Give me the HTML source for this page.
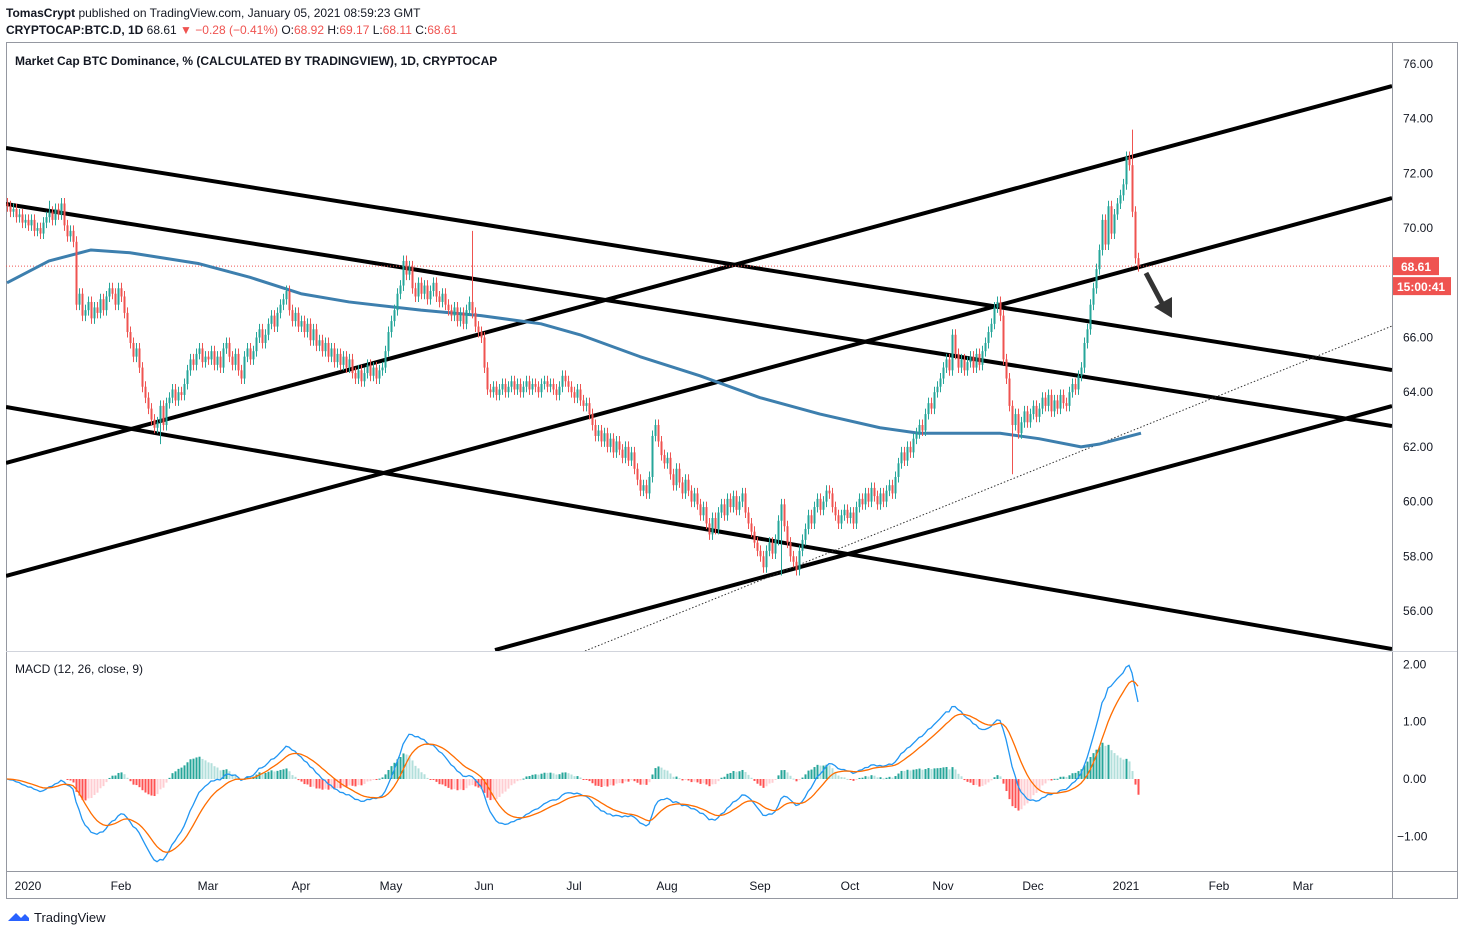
<!DOCTYPE html>
<html><head><meta charset="utf-8">
<style>
html,body{margin:0;padding:0;background:#fff;width:1464px;height:936px;overflow:hidden}
text{font-family:"Liberation Sans",sans-serif}
</style></head>
<body>
<svg id="svg" width="1464" height="936" xmlns="http://www.w3.org/2000/svg">
<defs>
<clipPath id="pc"><rect x="6" y="42" width="1386" height="609"/></clipPath>
<clipPath id="mc"><rect x="6" y="651" width="1386" height="220"/></clipPath>
</defs>
<text x="6" y="17" font-size="12" fill="#131722"><tspan font-weight="bold">TomasCrypt</tspan> published on TradingView.com, January 05, 2021 08:59:23 GMT</text>
<text x="6" y="34" font-size="12" fill="#131722"><tspan font-weight="bold">CRYPTOCAP:BTC.D, 1D</tspan> 68.61 <tspan fill="#ef5350">▼ −0.28 (−0.41%)</tspan> O:<tspan fill="#ef5350">68.92</tspan> H:<tspan fill="#ef5350">69.17</tspan> L:<tspan fill="#ef5350">68.11</tspan> C:<tspan fill="#ef5350">68.61</tspan></text>
<rect x="6.5" y="42.5" width="1451" height="856" fill="none" stroke="#9598a1"/>
<line x1="1392.5" y1="42" x2="1392.5" y2="898" stroke="#9598a1"/>
<line x1="6" y1="651.5" x2="1457" y2="651.5" stroke="#d1d4dc"/>
<line x1="6" y1="871.5" x2="1457" y2="871.5" stroke="#9598a1"/>
<text x="15" y="65" font-size="12" font-weight="bold" fill="#131722">Market Cap BTC Dominance, % (CALCULATED BY TRADINGVIEW), 1D, CRYPTOCAP</text>
<text x="15" y="673" font-size="12" fill="#131722">MACD (12, 26, close, 9)</text>
<g id="priceG" clip-path="url(#pc)"></g>
<g id="macdG" clip-path="url(#mc)"></g>
<g id="axisG"></g>
<g>
<path d="M8 921 l8 -8 l5 5 l4 -4 l4 4 v3 z" fill="#2962ff"/>
<text x="34" y="922" font-size="13" fill="#131722">TradingView</text>
</g>
</svg>
<script>
const closes=[70.8,70.6,70.7,70.4,70.5,70.2,70.3,
70.1,70.3,69.9,70.0,69.8,70.2,70.4,70.6,70.3,70.7,70.5,70.9,70.1,69.7,69.9,69.5,67.2,67.6,66.8,67.0,67.3,66.7,67.1,66.9,67.4,67.0,67.5,67.8,67.6,67.2,67.8,
67.5,66.9,66.2,65.8,65.3,65.6,64.9,64.2,63.8,63.4,63.0,62.7,62.9,63.5,62.8,63.6,63.8,64.1,63.7,64.0,63.9,64.3,64.8,65.2,65.0,65.4,65.6,65.1,65.3,
65.2,65.5,65.0,65.3,64.9,65.6,65.8,65.3,65.0,65.4,64.8,64.5,65.3,65.6,65.2,65.5,66.0,66.3,65.8,66.1,66.5,66.8,66.4,66.9,67.2,67.4,67.7,67.0,66.6,66.9,66.4,
66.6,66.2,66.5,65.9,66.3,65.7,65.9,65.5,65.8,65.3,65.6,65.1,65.4,65.0,65.3,64.9,65.2,64.7,64.5,64.8,64.4,64.7,65.0,64.6,64.9,64.5,64.8,64.9,65.5,66.2,
66.6,67.0,67.6,67.9,68.8,68.3,68.6,67.8,67.5,68.0,67.6,67.9,67.4,67.7,68.0,67.5,67.3,67.6,67.2,67.0,66.8,67.1,66.6,66.9,66.5,67.0,67.3,66.9,66.4,66.2,66.0,
64.9,64.1,64.0,64.2,63.9,64.1,64.3,64.0,64.2,64.4,64.1,64.3,64.0,64.2,64.4,64.1,64.3,64.2,64.0,64.3,64.4,64.2,64.3,64.1,63.9,64.2,64.6,64.4,64.2,64.0,
63.8,64.1,63.7,63.5,63.6,63.2,62.8,62.4,62.6,62.2,62.5,62.0,62.3,61.8,62.2,61.9,61.6,62.0,61.5,61.8,61.2,60.8,60.4,60.6,60.3,60.9,62.4,62.8,62.2,61.7,61.4,
61.6,61.0,60.6,61.2,60.7,60.3,60.8,60.4,60.0,60.3,59.9,59.5,59.8,59.2,58.8,59.4,59.0,59.6,59.9,59.5,60.1,59.8,60.2,59.7,60.0,60.3,59.6,59.2,58.9,58.5,58.2,
58.0,57.6,58.2,58.5,58.1,58.6,59.3,59.9,59.1,58.5,58.0,57.8,57.5,58.2,58.6,59.0,59.5,59.2,59.8,60.1,59.7,60.0,60.4,60.3,59.8,59.5,59.2,59.5,59.7,59.4,
59.6,59.2,59.8,60.1,59.9,60.3,60.0,60.5,60.2,59.9,60.3,60.0,60.4,60.6,60.3,60.9,61.4,61.8,61.5,62.0,61.8,62.3,62.5,62.8,62.6,63.2,63.6,63.4,64.0,64.2,64.5,
64.9,65.2,64.8,66.1,65.4,64.9,65.2,64.8,65.1,65.3,64.9,65.4,65.0,65.5,65.8,66.2,66.5,67.1,67.3,66.8,65.2,64.5,63.5,62.8,63.2,62.5,62.9,63.3,62.9,63.2,
63.5,63.1,63.4,63.8,63.5,63.9,63.3,63.7,63.4,63.9,63.6,63.5,64.0,64.3,64.1,64.6,64.9,65.8,66.3,67.2,67.8,68.5,69.2,70.3,69.4,70.8,69.8,70.5,70.9,71.2,71.6,
72.6,72.3,70.6,68.9,68.61];
const firstDay=-7;
const spikeDays=[7,148,44,251,328,368];
const spikeVals=[71.0,69.9,62.1,57.3,61.0,73.6];
const maDays=[-7,7,21,34,57,74,91,107,131,151,171,184,204,224,244,264,284,297,311,324,337,351,357,371];
const maVals=[68.0,68.8,69.2,69.1,68.7,68.2,67.6,67.3,67.0,66.8,66.5,66.1,65.3,64.6,63.8,63.2,62.7,62.5,62.5,62.5,62.3,62.0,62.1,62.5];
const priceTicks=[76,74,72,70,68,66,64,62,60,58,56];
const macdTicks=[2,1,0,-1];
const monthLabels=["2020","Feb","Mar","Apr","May","Jun","Jul","Aug","Sep","Oct","Nov","Dec","2021","Feb","Mar"];
const monthDays=[0,31,60,91,121,152,182,213,244,274,305,335,366,397,425];
const lastPrice=68.61;

const NS="http://www.w3.org/2000/svg";
const X=d=>28+3*d;
const Y=p=>64+(76-p)*27.35;
const MY=v=>779-v*57.33;
function mk(tag,attrs,parent){const e=document.createElementNS(NS,tag);for(const k in attrs)e.setAttribute(k,attrs[k]);parent.appendChild(e);return e;}
const pg=document.getElementById('priceG'),mg=document.getElementById('macdG'),ag=document.getElementById('axisG');

const lines=[[6,148,1392,370],[6,204,1392,426],[6,407,1392,649],[6,463,1392,86],[6,576,1392,198],[495,650,1392,406]];
lines.forEach((l,i)=>{const e=mk('line',{x1:l[0],y1:l[1],x2:l[2],y2:l[3],stroke:'#000','stroke-width':4},pg);

});
{const e=mk('line',{x1:585,y1:651,x2:1392,y2:326,stroke:'#333','stroke-width':1,'stroke-dasharray':'1.5,2'},pg);

}

{const e=mk('line',{x1:6,y1:Y(lastPrice),x2:1392,y2:Y(lastPrice),stroke:'#ef5350','stroke-width':1,'stroke-dasharray':'1,2'},pg);

}

{let pts=maDays.map((d,i)=>X(d)+','+Y(maVals[i])).join(' ');
const e=mk('polyline',{points:pts,fill:'none',stroke:'#3d7fae','stroke-width':3,'stroke-linejoin':'round'},pg);

}

for(let i=0;i<closes.length;i++){
  const d=firstDay+i,c=closes[i],o=i>0?closes[i-1]:c+0.1;
  let h=Math.max(o,c)+0.2,l=Math.min(o,c)-0.2;
  const si=spikeDays.indexOf(d);
  if(si>=0){if(spikeVals[si]>c)h=spikeVals[si];else l=spikeVals[si];}
  const col=c>=o?'#26a69a':'#ef5350',x=X(d);
  const g=mk('g',{},pg);
  
  
  mk('line',{x1:x+0.5,y1:Y(h),x2:x+0.5,y2:Y(l),stroke:col,'stroke-width':1},g);
  const yt=Y(Math.max(o,c)),yb=Y(Math.min(o,c));
  mk('rect',{x:x-0.5,y:yt,width:2,height:Math.max(1,yb-yt),fill:col},g);
}

{const g=mk('g',{},pg);


mk('line',{x1:1146,y1:273,x2:1163,y2:305,stroke:'#333','stroke-width':5},g);
mk('polygon',{points:'1154,307 1172,318 1172,297',fill:'#333'},g);}

function ema(arr,n){const k=2/(n+1);let out=[],e=arr[0];arr.forEach((v,i)=>{e=i?v*k+e*(1-k):v;out.push(e);});return out;}
const e12=ema(closes,12),e26=ema(closes,26);
const macd=e12.map((v,i)=>v-e26[i]);
const sig=ema(macd,9);
const hist=macd.map((v,i)=>v-sig[i]);
const start=20;
for(let i=start;i<closes.length;i++){
  const h=hist[i],p=hist[i-1];let col;
  if(h>=0)col=h>=p?'#26a69a':'#b2dfdb';else col=h<p?'#ff5252':'#ffcdd2';
  const y0=MY(0),y1=MY(h);
  const r=mk('rect',{x:X(firstDay+i)-0.5,y:Math.min(y0,y1),width:2,height:Math.max(1,Math.abs(y1-y0)),fill:col},mg);
  
  
}
{const e=mk('polyline',{points:macd.map((v,i)=>X(firstDay+i)+','+MY(v)).join(' '),fill:'none',stroke:'#2196f3','stroke-width':1.3},mg);


const s=mk('polyline',{points:sig.map((v,i)=>X(firstDay+i)+','+MY(v)).join(' '),fill:'none',stroke:'#ff6d00','stroke-width':1.3},mg);

}

priceTicks.forEach(t=>{const e=mk('text',{x:1403,y:Y(t)+4,'font-size':12,fill:'#131722'},ag);e.textContent=t.toFixed(2);

});
macdTicks.forEach(t=>{const e=mk('text',{x:t<0?1397:1403,y:MY(t)+4,'font-size':12,fill:'#131722'},ag);e.textContent=(t<0?'−':'')+Math.abs(t).toFixed(2);

});
monthLabels.forEach((m,i)=>{const e=mk('text',{x:X(monthDays[i]),y:890,'font-size':12,fill:'#131722','text-anchor':'middle'},ag);e.textContent=m;

});
{const g=mk('g',{},ag);


mk('rect',{x:1393,y:Y(lastPrice)-9,width:46,height:18,fill:'#ef5350'},g);
const t=mk('text',{x:1401,y:Y(lastPrice)+5,'font-size':12,'font-weight':'bold',fill:'#fff'},g);t.textContent=lastPrice.toFixed(2);
mk('rect',{x:1393,y:Y(lastPrice)+11,width:58,height:18,fill:'#ef5350'},g);
const t2=mk('text',{x:1397,y:Y(lastPrice)+25,'font-size':12,'font-weight':'bold',fill:'#fff'},g);t2.textContent='15:00:41';}
</script>
</body></html>
